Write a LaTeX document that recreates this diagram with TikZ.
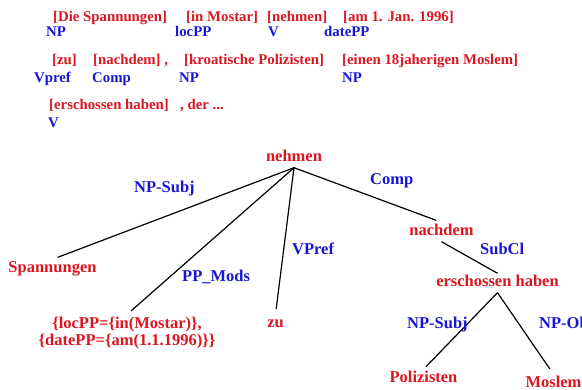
\documentclass[tikz,border=0pt]{standalone}
\usepackage{fontspec}
\setmainfont{Liberation Serif}
\definecolor{wordred}{RGB}{220,22,32}
\definecolor{tagblue}{RGB}{22,22,215}
\tikzset{
  hdr/.style={anchor=base west,inner sep=0pt,font=\fontsize{14.8}{16}\selectfont\bfseries},
  hword/.style={hdr,text=wordred},
  htag/.style={hdr,text=tagblue},
  tword/.style={anchor=base,inner xsep=0pt,inner ysep=2pt,text height=11.5pt,text depth=3.5pt,
    text=wordred,font=\fontsize{16.5}{17}\selectfont\bfseries},
  rel/.style={anchor=base west,inner sep=0pt,text=tagblue,font=\fontsize{16.5}{17}\selectfont\bfseries},
  arc/.style={black,line width=1.2pt},
}
\begin{document}
\begin{tikzpicture}[x=1pt,y=-1pt]
\useasboundingbox (0,0) rectangle (582,390);

% annotated sentence
\node[hword] (w1) at (53,22) {[Die Spannungen]};
\node[hword] (w2) at (186,22) {[in Mostar]};
\node[hword] (w3) at (267,22) {[nehmen]};
\node[hword] (w4) at (343,22) {[am 1. Jan. 1996]};
\node[htag] (t1) at (46,36.5) {NP};
\node[htag] (t2) at (175,36.5) {locPP};
\node[htag] (t3) at (268,36.5) {V};
\node[htag] (t4) at (324,36.5) {datePP};

\node[hword] (w5) at (52,65) {[zu]};
\node[hword] (w6) at (93,65) {[nachdem] ,};
\node[hword] (w7) at (184,65) {[kroatische Polizisten]};
\node[hword] (w8) at (342,65) {[einen 18jaherigen Moslem]};
\node[htag] (t5) at (34,83) {Vpref};
\node[htag] (t6) at (92,83) {Comp};
\node[htag] (t7) at (179,83) {NP};
\node[htag] (t8) at (342,83) {NP};

\node[hword] (w9) at (49,110) {[erschossen haben]};
\node[hword] (w10) at (180,110) {, der ...};
\node[htag] (t9) at (48,128) {V};

% dependency tree
\node[tword] (nehmen) at (294,162) {nehmen};
\node[tword] (spann) at (52.5,273) {Spannungen};
\node[anchor=north,inner xsep=0pt,inner ysep=2pt,align=center,text=wordred,
  font=\fontsize{16.5}{17}\selectfont\bfseries] (mods) at (127,314.5)
  {\{locPP=\{in(Mostar)\},\\\{datePP=\{am(1.1.1996)\}\}};
\node[tword] (zu) at (275.5,328) {zu};
\node[tword] (nachdem) at (441.5,236) {nachdem};
\node[tword] (erschossen) at (497.5,287) {erschossen haben};
\node[tword] (poliz) at (423.5,383) {Polizisten};
\node[tword] (moslem) at (553.5,388) {Moslem};

\draw[arc,shorten >=5.5pt] (nehmen.south) -- (spann.north);
\draw[arc,shorten >=5.5pt] (nehmen.south) -- (mods.north);
\draw[arc,shorten >=5.5pt] (nehmen.south) -- (zu.north);
\draw[arc,shorten >=5.5pt] (nehmen.south) -- (nachdem.north);
\draw[arc] (nachdem.south) -- (erschossen.north);
\draw[arc,shorten >=3.5pt] (erschossen.south) -- (poliz.north);
\draw[arc,shorten >=6.5pt] (erschossen.south) -- (moslem.north);

% relation labels
\node[rel] (lsubj) at (134,193) {NP-Subj};
\node[rel] (lmods) at (182,282) {PP\_Mods};
\node[rel] (lvpref) at (292,255) {VPref};
\node[rel] (lcomp) at (370,185) {Comp};
\node[rel] (lsubcl) at (480,255) {SubCl};
\node[rel] (lsubj2) at (407,329) {NP-Subj};
\node[rel] (lobj) at (539,329) {NP-Obj};
\end{tikzpicture}
\end{document}
